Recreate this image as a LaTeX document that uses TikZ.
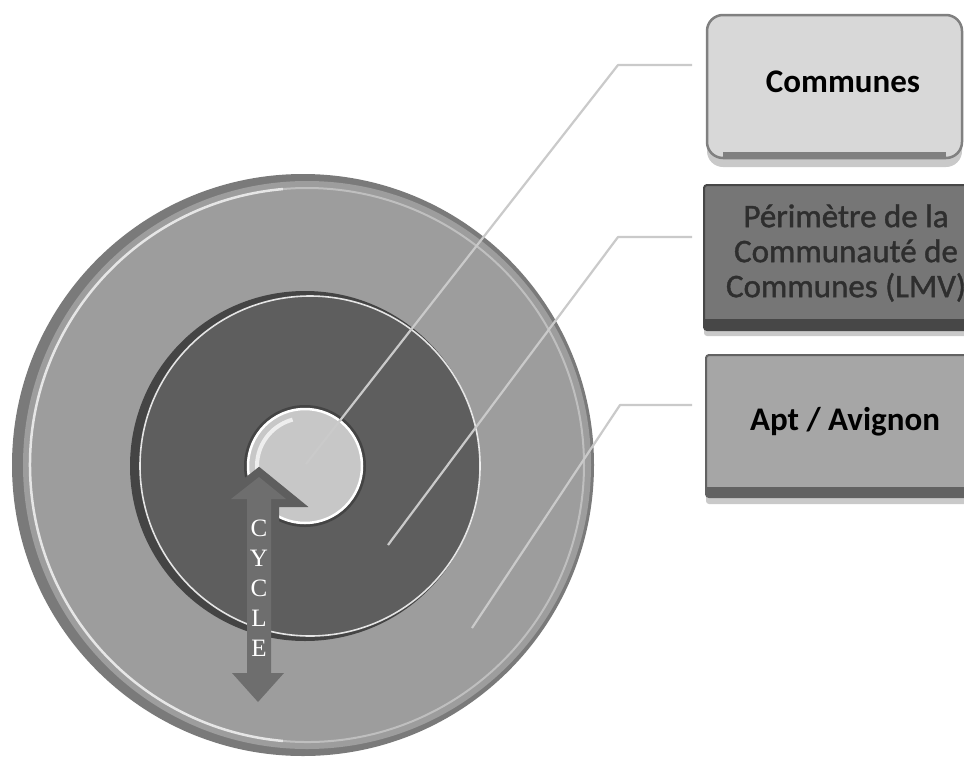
\documentclass[tikz,border=0pt]{standalone}
\usepackage{fontspec}
\setmainfont{Carlito}
\newfontfamily\cycfont{Liberation Serif}
\newfontfamily\semiboldfont[FakeBold=1.2]{Carlito}
\usetikzlibrary{calc,shadows}

\definecolor{outerfill}{HTML}{9D9D9D}
\definecolor{outeredge}{HTML}{7A7A7A}
\definecolor{midfill}{HTML}{5E5E5E}
\definecolor{midshadow}{HTML}{444444}
\definecolor{innerfill}{HTML}{C7C7C7}
\definecolor{arrowfill}{HTML}{6E6E6E}
\definecolor{leadercol}{HTML}{CACACA}
\definecolor{boxonefill}{HTML}{D8D8D8}
\definecolor{boxoneedge}{HTML}{808080}
\definecolor{boxtwofill}{HTML}{767676}
\definecolor{boxtwoedge}{HTML}{474747}
\definecolor{boxthreefill}{HTML}{A6A6A6}
\definecolor{boxthreeedge}{HTML}{626262}
\definecolor{boxshade}{HTML}{C9C9C9}
\definecolor{midtext}{HTML}{2E2E2E}

\tikzset{
  leader/.style={draw=leadercol, line width=2.2pt, line join=round},
  boxbase/.style={minimum height=143pt, inner sep=0pt, outer sep=0pt},
  boxlabel/.style={font=\fontsize{33}{35}\selectfont, align=center, inner sep=0pt},
  cyclelabel/.style={font=\cycfont\fontsize{25}{30}\selectfont, text=white, align=center, inner sep=0pt}
}

\begin{document}
\begin{tikzpicture}[x=1pt,y=1pt]
\useasboundingbox (0,0) rectangle (964,-758);
\fill[white] (0,0) rectangle (964,-758);

% ---------- outer ring ----------
\coordinate (O) at (306,-465);
\fill[outeredge] ($(O)+(-3,0)$) circle (291);
\fill[outerfill] ($(O)+(1,0)$) circle (284);
\draw[white, opacity=0.75, line width=2.5pt]
  ($(O)+(1,0)+(95:277)$) arc[start angle=95, end angle=265, radius=277];
\draw[white, opacity=0.35, line width=2pt]
  ($(O)+(1,0)+(265:277)$) arc[start angle=265, end angle=455, radius=277];

% ---------- middle disc ----------
\fill[midshadow] ($(O)+(-1,-1)$) circle (175);
\fill[midfill] ($(O)+(4,-1)$) circle (170);
\draw[white, opacity=0.85, line width=1.6pt] ($(O)+(4,-1)$) circle (170);

% ---------- inner disc ----------
\coordinate (I) at (305,-466);
\fill[midshadow] (I) circle (61);
\fill[innerfill] (I) circle (58);
\draw[white, line width=2.5pt] (I) circle (57);
\draw[white, opacity=0.7, line width=4pt]
  ($(I)+(105:48)$) arc[start angle=105, end angle=200, radius=48];

% ---------- CYCLE double arrow ----------
\def\cyclearrow{(259,-477) -- (286,-499) -- (271,-499) -- (271,-673) -- (284,-673)
  -- (258,-702) -- (232,-673) -- (247,-673) -- (247,-499) -- (231,-499) -- cycle}
\begin{scope}
  \clip (I) circle (62);
  \draw[midfill, line width=16pt, line join=miter] \cyclearrow;
\end{scope}
\fill[arrowfill] \cyclearrow;
\node[cyclelabel] (cyc) at (259,-588) {C\\Y\\C\\L\\E};

% ---------- boxes ----------
\node[boxbase, minimum width=255pt, fill=boxonefill, draw=boxoneedge, line width=2.5pt,
      rounded corners=16pt,
      drop shadow={shadow xshift=0pt, shadow yshift=-9pt, fill=boxshade, opacity=1}]
      (b1) at (834.5,-86.5) {};
\draw[boxoneedge, line width=6pt] ($(b1.south west)+(16,3)$) -- ($(b1.south east)+(-16,3)$);
\node[boxlabel, font=\fontsize{33}{35}\selectfont\bfseries, text=black] (t1) at (843,-82) {Communes};

\node[boxbase, minimum width=272pt, minimum height=145pt, fill=boxtwofill, draw=boxtwoedge,
      line width=2pt, rounded corners=3pt,
      drop shadow={shadow xshift=0pt, shadow yshift=-6pt, fill=boxshade, opacity=1}]
      (b2) at (840,-257.5) {};
\fill[boxtwoedge] ($(b2.south west)+(1,1)$) rectangle ($(b2.south east)+(-1,11)$);
\node[boxlabel, font=\semiboldfont\fontsize{33}{35}\selectfont, text=midtext] (t2) at (846,-253)
  {Périmètre de la\\Communauté de\\Communes (LMV)};

\node[boxbase, minimum width=270pt, minimum height=142pt, fill=boxthreefill, draw=boxthreeedge,
      line width=2pt, rounded corners=3pt,
      drop shadow={shadow xshift=0pt, shadow yshift=-7pt, fill=boxshade, opacity=1}]
      (b3) at (841,-426) {};
\fill[boxthreeedge] ($(b3.south west)+(1,1)$) rectangle ($(b3.south east)+(-1,10)$);
\node[boxlabel, font=\fontsize{33}{35}\selectfont\bfseries, text=black] (t3) at (845,-422) {Apt / Avignon};

% ---------- leader lines ----------
\coordinate (p1) at (306,-464);
\coordinate (k1) at ($(b1.west)+(-89,21.5)$);
\coordinate (e1) at ($(b1.west)+(-15,21.5)$);
\coordinate (p2) at (388,-545);
\coordinate (k2) at ($(b2.west)+(-86,20.5)$);
\coordinate (e2) at ($(b2.west)+(-12,20.5)$);
\coordinate (p3) at (472,-628);
\coordinate (k3) at ($(b3.west)+(-86,21)$);
\coordinate (e3) at ($(b3.west)+(-14,21)$);

\draw[leader] (p1) -- (k1) -- (e1);
\draw[leader] (p2) -- (k2) -- (e2);
\draw[leader] (p3) -- (k3) -- (e3);
\end{tikzpicture}
\end{document}
